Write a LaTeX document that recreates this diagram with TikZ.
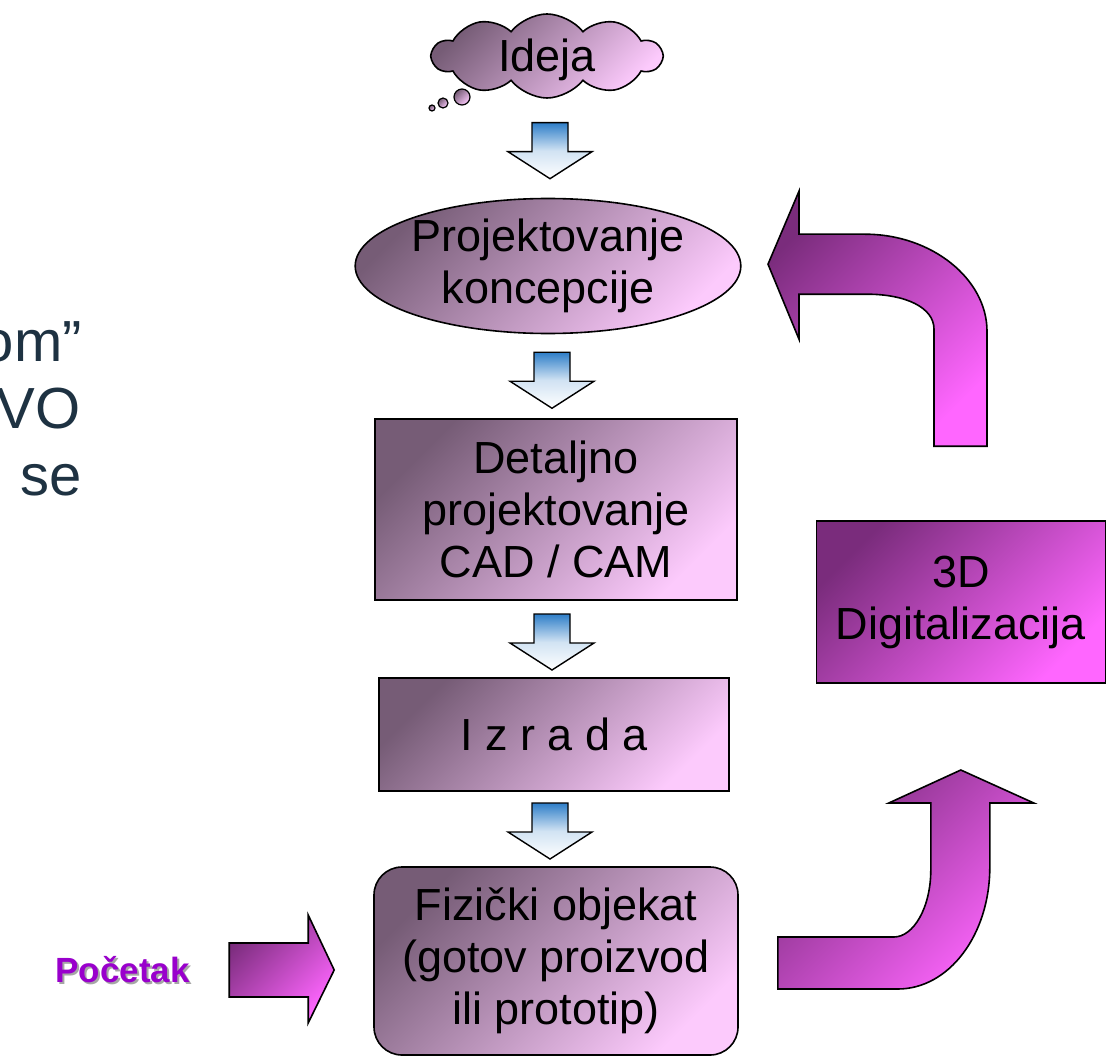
\documentclass[tikz,border=0pt]{standalone}
\usepackage{fontspec}
\setmainfont{Liberation Sans}
\usetikzlibrary{shapes.geometric,shapes.symbols,calc}

\definecolor{paledark}{RGB}{118,92,118}
\definecolor{palelight}{RGB}{252,202,252}
\definecolor{vivdark}{RGB}{122,44,124}
\definecolor{vivlight}{RGB}{255,102,255}
\definecolor{flowblue}{RGB}{46,126,200}
\definecolor{slidetext}{RGB}{30,50,66}
\definecolor{startviolet}{RGB}{153,0,204}

\tikzset{
  outline/.style={draw=black, line width=1.6},
  palefill/.style={top color=paledark, bottom color=palelight, shading angle=45},
  vividfill/.style={top color=vivdark, bottom color=vivlight, shading angle=45},
  stagefont/.style={font=\fontsize{45}{52}\selectfont},
  stage/.style={outline, palefill, align=center, inner sep=0, stagefont},
  bubble/.style={circle, outline, line width=1.2, palefill, inner sep=0},
  fragment/.style={anchor=base east, text=slidetext, font=\fontsize{58}{67}\selectfont, inner sep=0},
  startfont/.style={font=\bfseries\fontsize{35}{42}\selectfont},
  blockdown/.pic={
    \path[outline, line width=1.4, top color=flowblue, bottom color=white,
          middle color=flowblue!22!white]
      (-18,-28) -- (18,-28) -- (18,1) -- (42,1) -- (0,28) -- (-42,1) -- (-18,1) -- cycle;
  }
}

\begin{document}
\begin{tikzpicture}[x=1pt, y=-1pt]
\clip (0,0) rectangle (1107,1059);
\fill[white] (0,0) rectangle (1107,1059);

% partly visible slide text on the left
\node[fragment] (frag1) at (82,361) {om”};
\node[fragment] (frag2) at (81,428) {VO};
\node[fragment] (frag3) at (82,495) {se};

% process stages
\node[stage, cloud, cloud puffs=10, cloud puff arc=105, cloud ignores aspect,
      minimum width=229, minimum height=84, text depth=2] (ideja) at (547,56) {Ideja};
\node[bubble, minimum size=16] (bub1) at (462,97) {};
\node[bubble, minimum size=10] (bub2) at (443,103) {};
\node[bubble, minimum size=6]  (bub3) at (432,108) {};

\node[stage, ellipse, minimum width=381, minimum height=135] (proj) at (548,266)
  {Projektovanje\\koncepcije};
\node[stage, rectangle, minimum width=362, minimum height=181] (det) at (556,509.5)
  {Detaljno\\projektovanje\\CAD / CAM};
\node[stage, rectangle, minimum width=350, minimum height=113] (izr) at (554,734.5)
  {I z r a d a};
\node[stage, rectangle, rounded corners=28, minimum width=364, minimum height=188] (fiz) at (556,961)
  {Fizički objekat\\(gotov proizvod\\ili prototip)};
\node[outline, vividfill, rectangle, align=center, inner sep=0, stagefont,
      minimum width=289, minimum height=162] (dig) at (961,602)
  {3D\\Digitalizacija};

% downward flow arrows between the stages
\pic at ($(proj.north)+(2,-47)$) {blockdown};
\pic at ($(proj.south)!0.5!(det.north)+(0,4)$) {blockdown};
\pic at ($(det.south)!0.5!(izr.north)+(-3,3)$) {blockdown};
\pic at ($(izr.south)!0.5!(fiz.north)+(-5,2)$) {blockdown};

% start label with its drop shadow
\node[anchor=base east, inner sep=0, text=black!35, startfont]
  (startshadow) at (192,984) {Početak};
\node[anchor=base east, inner sep=0, text=startviolet, startfont]
  (start) at (190,982) {Početak};

% start arrow into the physical object
\begin{scope}[shift={(fiz.west)}]
  \path[outline, vividfill]
    (-144,-18) -- (-65,-18) -- (-65,-46) -- (-39,9) -- (-65,62) -- (-65,36) -- (-144,36) -- cycle;
\end{scope}

% bent arrow from the physical object up to the digitalization
\begin{scope}[shift={(fiz.east)}]
  \path[outline, vividfill]
    (39,-24) -- (155,-24)
    .. controls (175,-24) and (192,-54) .. (192,-91)
    -- (192,-158) -- (150,-158) -- (222,-191) -- (295,-158) -- (251,-158) -- (251,-94)
    .. controls (251,-26) and (210,28) .. (159,28)
    -- (39,28) -- cycle;
\end{scope}

% bent arrow from the digitalization back to the concept design
\begin{scope}[shift={(dig.north)}]
  \path[outline, vividfill]
    (-193,-256) -- (-162,-329) -- (-162,-286) -- (-96,-286)
    .. controls (-29,-286) and (26,-241) .. (26,-189)
    -- (26,-74) -- (-27,-74) -- (-27,-191)
    .. controls (-27,-213) and (-56,-226) .. (-94,-226)
    -- (-162,-226) -- (-162,-181) -- cycle;
\end{scope}
\end{tikzpicture}
\end{document}
